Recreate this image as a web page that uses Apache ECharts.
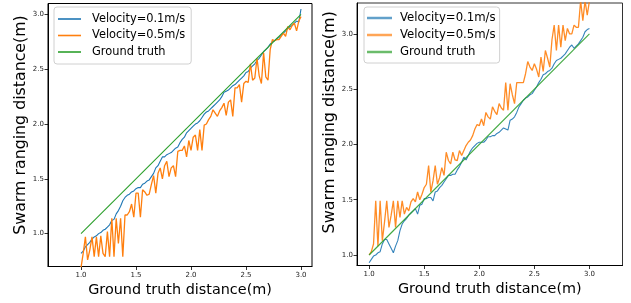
<!DOCTYPE html>
<html><head><meta charset="utf-8">
<script src="https://cdn.jsdelivr.net/npm/echarts@6/dist/echarts.min.js"></script>
<style>html,body{margin:0;padding:0;background:#fff}#c{width:631px;height:303px}</style>
</head><body><div id="c"></div>
<script>
const xs = [1.00,1.02,1.04,1.06,1.08,1.10,1.12,1.14,1.16,1.18,1.20,1.22,1.24,1.26,1.28,1.30,1.32,1.34,1.36,1.38,1.40,1.42,1.44,1.46,1.48,1.50,1.52,1.54,1.56,1.58,1.60,1.62,1.64,1.66,1.68,1.70,1.72,1.74,1.76,1.78,1.80,1.82,1.84,1.86,1.88,1.90,1.92,1.94,1.96,1.98,2.00,2.02,2.04,2.06,2.08,2.10,2.12,2.14,2.16,2.18,2.20,2.22,2.24,2.26,2.28,2.30,2.32,2.34,2.36,2.38,2.40,2.42,2.44,2.46,2.48,2.50,2.52,2.54,2.56,2.58,2.60,2.62,2.64,2.66,2.68,2.70,2.72,2.74,2.76,2.78,2.80,2.82,2.84,2.86,2.88,2.90,2.92,2.94,2.96,2.98,3.00];

const leftBlue = [0.82,0.84,0.88,0.90,0.92,0.95,0.97,0.98,1.00,1.01,
  1.03,1.04,1.06,1.08,1.12,1.13,1.18,1.21,1.25,1.30,
  1.33,1.35,1.36,1.38,1.39,1.41,1.42,1.42,1.45,1.46,
  1.48,1.49,1.52,1.55,1.60,1.62,1.66,1.70,1.70,1.72,
  1.73,1.74,1.76,1.78,1.79,1.83,1.86,1.88,1.92,1.94,
  1.96,1.98,2.00,2.01,2.03,2.06,2.09,2.11,2.12,2.14,
  2.16,2.18,2.20,2.22,2.25,2.29,2.30,2.31,2.33,2.35,
  2.36,2.38,2.40,2.42,2.44,2.47,2.48,2.51,2.53,2.55,
  2.58,2.60,2.63,2.66,2.68,2.70,2.73,2.75,2.76,2.78,
  2.79,2.81,2.83,2.85,2.87,2.89,2.90,2.92,2.94,2.93,
  3.05];

const leftOrange = [0.69,0.82,0.97,0.76,0.85,0.97,0.79,0.97,0.79,0.98,
  0.82,0.79,1.02,0.79,1.14,0.79,1.14,0.91,1.14,0.79,
  1.17,1.17,1.20,1.27,1.15,1.37,1.37,1.15,1.40,1.38,
  1.35,1.36,1.45,1.53,1.37,1.55,1.60,1.50,1.62,1.66,
  1.52,1.60,1.62,1.52,1.75,1.76,1.76,1.80,1.70,1.85,
  1.76,1.88,1.90,1.76,1.95,1.76,1.99,2.00,2.04,2.07,
  2.13,2.10,2.07,2.12,2.15,2.19,2.08,2.20,2.22,2.07,
  2.33,2.33,2.36,2.20,2.37,2.39,2.38,2.55,2.40,2.42,
  2.60,2.44,2.37,2.65,2.43,2.40,2.68,2.77,2.76,2.77,
  2.77,2.80,2.83,2.80,2.89,2.86,2.90,2.92,2.85,2.94,
  2.98];

const rightBlue = [0.93,0.96,0.99,1.00,1.02,1.03,1.10,1.14,1.14,1.10,
  1.06,1.02,1.08,1.13,1.22,1.28,1.31,1.33,1.36,1.38,
  1.40,1.42,1.37,1.45,1.46,1.51,1.51,1.52,1.52,1.49,
  1.57,1.58,1.61,1.63,1.66,1.69,1.72,1.72,1.73,1.73,
  1.77,1.80,1.84,1.885,1.86,1.90,1.94,1.97,1.99,2.01,
  2.02,2.02,2.02,2.04,2.07,2.07,2.08,2.08,2.10,2.11,
  2.13,2.15,2.14,2.13,2.22,2.23,2.25,2.29,2.34,2.37,
  2.40,2.42,2.43,2.45,2.46,2.49,2.52,2.56,2.59,2.63,
  2.64,2.66,2.67,2.69,2.73,2.76,2.77,2.78,2.80,2.82,
  2.85,2.88,2.90,2.87,2.89,2.91,2.94,2.97,3.02,3.04,
  3.05];

const rightOrange = [1.00,1.03,1.10,1.49,1.08,1.49,1.13,1.30,1.49,1.25,
  1.36,1.49,1.25,1.49,1.34,1.49,1.37,1.43,1.40,1.48,
  1.51,1.48,1.57,1.50,1.55,1.61,1.64,1.81,1.57,1.67,
  1.81,1.64,1.70,1.79,1.72,1.93,1.855,1.825,1.93,1.86,
  1.855,1.945,1.90,1.945,1.99,2.02,2.04,2.08,2.14,2.18,
  2.17,2.23,2.17,2.29,2.25,2.23,2.34,2.30,2.27,2.37,
  2.33,2.31,2.56,2.31,2.55,2.45,2.37,2.56,2.56,2.56,
  2.56,2.64,2.75,2.70,2.67,2.73,2.68,2.61,2.79,2.66,
  2.85,2.78,2.70,2.95,3.08,2.85,3.08,2.88,3.08,2.94,
  3.05,3.00,3.00,3.08,3.06,3.06,3.30,3.12,3.30,3.17,
  3.30];

const truthX = [1.0, 3.0];
const truthY = [1.0, 3.0];

const tickVals = [1.0, 1.5, 2.0, 2.5, 3.0];
const names = ['Velocity=0.1m/s', 'Velocity=0.5m/s', 'Ground truth'];
const colors = ['#1f77b4', '#ff7f0e', '#2ca02c'];
const lightColors = ['#62a0ca', '#ffa556', '#6bbc6b'];

const FONT = 'DejaVu Sans';
const pairs = (x, y) => x.map((v, i) => [v, y[i]]);

function axis(gi, min, max, isX, name, nameGap, nameSize, namePad) {
  return {
    type: 'value', gridIndex: gi, min: min, max: max,
    name: name, nameLocation: 'middle', nameGap: nameGap,
    nameTextStyle: {fontFamily: FONT, fontSize: nameSize, color: '#000', padding: namePad || 0},
    axisLine: {show: true, onZero: false, lineStyle: {color: '#000', width: 1}},
    axisTick: {show: true, customValues: tickVals, length: 3.5, lineStyle: {color: '#000', width: 0.8}},
    axisLabel: {show: true, customValues: tickVals, fontFamily: FONT, fontSize: 7, color: '#222',
      margin: isX ? 5 : 4, formatter: v => Number(v).toFixed(1)},
    splitLine: {show: false}
  };
}

function lineSeries(name, data, xi, color, width, opacity) {
  return {
    type: 'line', name: name, xAxisIndex: xi, yAxisIndex: xi, data: data,
    showSymbol: false, symbol: 'none', animation: false, clip: true,
    lineStyle: {color: color, width: width, opacity: opacity}, itemStyle: {color: color}
  };
}

const chart = echarts.init(document.getElementById('c'), null, {renderer: 'canvas'});
chart.setOption({
  animation: false,
  backgroundColor: '#fff',
  grid: [
    {left: 48, top: 3.5, width: 264, height: 263, show: true, borderColor: '#000', borderWidth: 1, backgroundColor: 'transparent'},
    {left: 357, top: 3, width: 265.5, height: 262.5, show: true, borderColor: '#333', borderWidth: 1, backgroundColor: 'transparent'}
  ],
  xAxis: [
    axis(0, 0.7, 3.1, true, 'Ground truth distance(m)', 11, 14.4),
    axis(1, 0.89, 3.3, true, 'Ground truth distance(m)', 11, 14.4)
  ],
  yAxis: [
    axis(0, 0.7, 3.1, false, 'Swarm ranging distance(m)', 16, 15.8, [0, 0, 0, 20]),
    axis(1, 0.905, 3.28, false, 'Swarm ranging distance(m)', 18, 16, [0, 0, 0, 24])
  ],
  legend: [
    {
      left: 54, top: 7, orient: 'vertical', icon: 'rect', itemWidth: 23, itemHeight: 1.6, itemGap: 2.5,
      padding: [5, 6, 5, 4], backgroundColor: '#fff', borderColor: '#d0d0d0', borderWidth: 1, borderRadius: 3,
      textStyle: {fontFamily: FONT, fontSize: 11.4, color: '#000', lineHeight: 14, padding: [0, 0, 0, 6]},
      data: names.map((n, i) => ({name: n, itemStyle: {color: colors[i]}}))
    },
    {
      left: 364, top: 7, orient: 'vertical', icon: 'rect', itemWidth: 25, itemHeight: 2.5, itemGap: 3,
      padding: [4, 4, 4, 3], backgroundColor: '#fff', borderColor: '#d0d0d0', borderWidth: 1, borderRadius: 3,
      textStyle: {fontFamily: FONT, fontSize: 11.7, color: '#000', lineHeight: 14, padding: [0, 0, 0, 3]},
      data: names.map((n, i) => ({name: n, itemStyle: {color: lightColors[i]}}))
    }
  ],
  series: [
    lineSeries(names[0], pairs(xs, leftBlue), 0, colors[0], 1.1, 1),
    lineSeries(names[1], pairs(xs, leftOrange), 0, colors[1], 1.3, 1),
    lineSeries(names[2], pairs(truthX, truthY), 0, colors[2], 1.1, 1),
    lineSeries(names[0], pairs(xs, rightBlue), 1, colors[0], 1.1, 0.9),
    lineSeries(names[1], pairs(xs, rightOrange), 1, colors[1], 1.3, 0.9),
    lineSeries(names[2], pairs(truthX, truthY), 1, colors[2], 1.1, 0.9)
  ]
});
</script></body></html>
